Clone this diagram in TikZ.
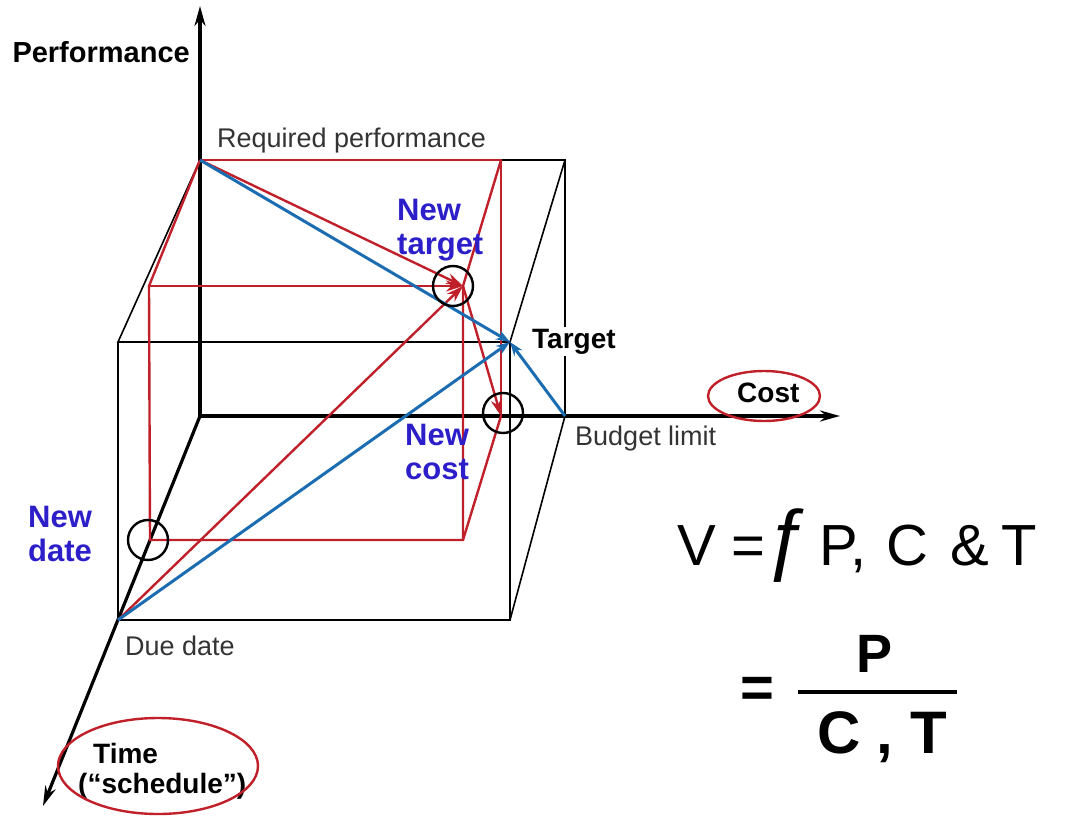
\documentclass[tikz,border=0pt]{standalone}
\usepackage{fontspec}
\setmainfont{Liberation Sans}
\usetikzlibrary{arrows.meta}

\definecolor{boxred}{RGB}{192,32,42}
\definecolor{pathblue}{RGB}{28,108,178}
\definecolor{labelblue}{RGB}{44,30,200}

\tikzset{
    axis/.style={line width=3.2pt,-{Stealth[length=20pt,width=11pt]}},
    edge/.style={line width=1.6pt},
    redline/.style={boxred,line width=2.4pt},
    redarrow/.style={redline,-{Stealth[length=17pt,width=11pt]}},
    bluearrow/.style={pathblue,line width=3pt,-{Stealth[length=14pt,width=10pt]}},
    ring/.style={circle,draw,line width=2.4pt,minimum size=40pt,inner sep=0pt},
    lbl/.style={inner sep=0pt,anchor=base west,text=black!80,font=\fontsize{27}{31}\selectfont},
    boldlbl/.style={inner sep=0pt,anchor=base west,font=\fontsize{28}{31}\selectfont\bfseries},
    newlbl/.style={inner sep=0pt,anchor=base west,align=left,text=labelblue,font=\fontsize{31}{34}\selectfont\bfseries}
}

\begin{document}
\begin{tikzpicture}[x=1pt,y=-1pt]
    \useasboundingbox (0,0) rectangle (1068,816);

    % Punkte
    \coordinate (O) at (200,416);
    \coordinate (PE) at (200,6);
    \coordinate (CE) at (840,416);
    \coordinate (TE) at (43,806);
    \coordinate (RP) at (200,160);
    \coordinate (BL) at (565,416);
    \coordinate (DD) at (118,620);
    \coordinate (T) at (510,342);
    \coordinate (BTR) at (565,160);
    \coordinate (FTL) at (118,342);
    \coordinate (FBR) at (510,620);

    % neuer Quader
    \coordinate (NT) at (463,286);
    \coordinate (NC) at (501,416);
    \coordinate (ND) at (150,540);
    \coordinate (RTR) at (501,160);
    \coordinate (RFTL) at (149,286);
    \coordinate (RFBR) at (463,540);

    % Quader (schwarz)
    \draw[edge] (RP) -- (BTR) -- (BL);
    \draw[edge] (RP) -- (FTL) -- (T) -- (BTR);
    \draw[edge] (FTL) -- (DD) -- (FBR) -- (T);
    \draw[edge] (BL) -- (FBR);

    % Achsen
    \draw[axis] (O) -- (PE);
    \draw[axis] (O) -- (CE);
    \draw[axis] (O) -- (TE);

    % neuer Quader (rot)
    \draw[redline] (RP) -- (RTR) -- (NC);
    \draw[redline] (RP) -- (RFTL) -- (ND) -- (RFBR) -- (NT) -- (RTR);
    \draw[redline] (NC) -- (RFBR);
    \draw[redarrow] (RP) -- (NT);
    \draw[redarrow] (RFTL) -- (NT);
    \draw[redarrow] (DD) -- (NT);
    \draw[redarrow] (NT) -- (NC);

    % Pfade zum Target
    \draw[bluearrow] (RP) -- (T);
    \draw[bluearrow] (DD) -- (T);
    \draw[bluearrow] (BL) -- (T);

    % Kreise
    \node[ring] (ntring) at ([xshift=-10pt]NT) {};
    \node[ring] (ncring) at ([xshift=2pt,yshift=3pt]NC) {};
    \node[ring] (ndring) at ([xshift=-2pt]ND) {};

    % Beschriftungen
    \node[boldlbl,anchor=base east,font=\fontsize{29}{31}\selectfont\bfseries] (perf) at (190,63) {Performance};
    \node[lbl] (reqperf) at (217,147) {Required performance};
    \node[newlbl] (newtarget) at (397,254) {New\\target};
    \node[boldlbl,fill=white,inner sep=2pt] (target) at (530,348) {Target};
    \node[boldlbl] (cost) at (737,402) {Cost};
    \node[lbl] (budget) at (575,445) {Budget limit};
    \node[newlbl] (newcost) at (405,479) {New\\cost};
    \node[newlbl] (newdate) at (28,561) {New\\date};
    \node[lbl] (duedate) at (125,655) {Due date};
    \node[boldlbl] (time) at (93,763) {Time};
    \node[boldlbl] (sched) at (78,793) {(“schedule”)};

    % Ellipsen
    \coordinate (CostRing) at (764,396);
    \coordinate (TimeRing) at (158,766);
    \draw[redline] (CostRing) ellipse (56 and 25);
    \draw[redline] (TimeRing) ellipse (100 and 48);

    % Formel
    \node[inner sep=0pt,anchor=base west,font=\fontsize{58}{60}\selectfont] (veq) at (677,565)
        {V =\hspace{1pt}{\fontsize{80}{80}\selectfont ƒ}\hspace{8pt}P,\hspace{20pt}C\hspace{22pt}\&\hspace{12pt}T};
    \node[inner sep=0pt,font=\fontsize{58}{60}\selectfont\bfseries] (eqsign) at (757,692) {=};
    \coordinate (barL) at (798,692);
    \coordinate (barR) at (957,692);
    \draw[line width=4pt] (barL) -- (barR);
    \node[inner sep=0pt,anchor=base,font=\fontsize{54}{56}\selectfont\bfseries] (num) at (874,672) {P};
    \node[inner sep=0pt,anchor=base,font=\fontsize{60}{62}\selectfont\bfseries] (den) at (882,753) {C , T};
\end{tikzpicture}
\end{document}
